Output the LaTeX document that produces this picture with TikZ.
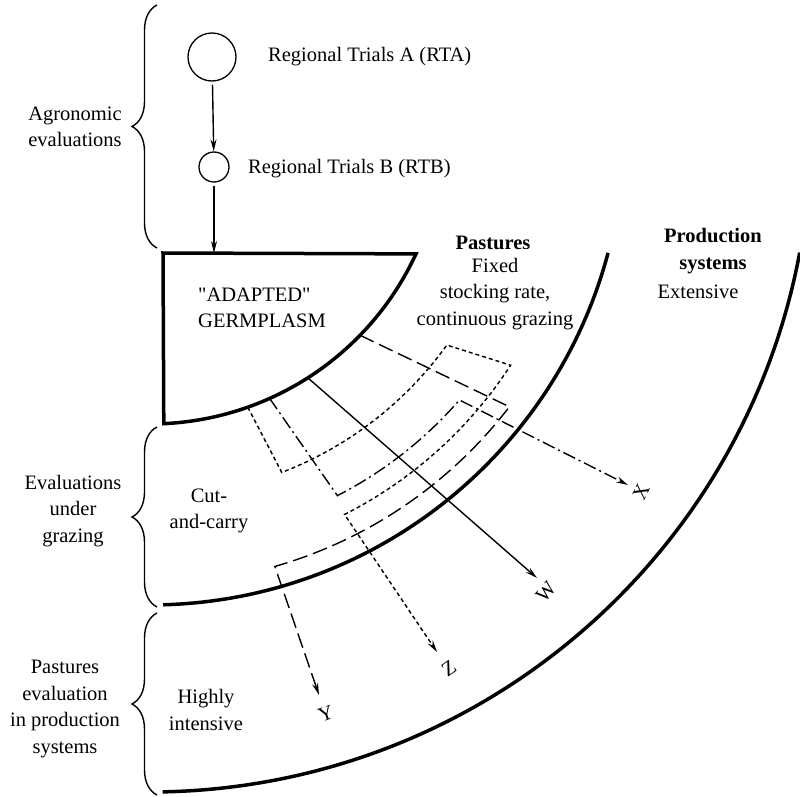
\documentclass[tikz,border=0pt]{standalone}
\usepackage{fontspec}
\setmainfont{Liberation Serif}
\usetikzlibrary{arrows.meta,decorations.pathreplacing,calc}
\begin{document}
\begin{tikzpicture}[x=1pt,y=-1pt,
  txt/.style={font=\fontsize{20.5}{26.5}\selectfont, inner sep=0pt, align=center},
  bold txt/.style={txt, font=\fontsize{20.5}{26.5}\selectfont\bfseries},
  heavy/.style={line width=3.5pt},
  conn/.style={line width=1.4pt},
  tipped/.style={-{Stealth[length=12pt,width=6pt]}},
  brc/.style={decorate,decoration={brace,amplitude=25pt},line width=1.4pt},
  trial/.style={circle,draw,line width=1.3pt,inner sep=0pt},
  dotline/.style={conn,dash pattern=on 4pt off 3pt},
  dashdotline/.style={conn,dash pattern=on 13pt off 4pt on 2pt off 4pt},
  longdash/.style={conn,dash pattern=on 15pt off 6pt},
]
\useasboundingbox (0,0) rectangle (800,797);
\coordinate (C) at (150,131);

% top: regional trials
\node[trial,minimum size=48pt] (A) at (212,57) {};
\node[trial,minimum size=30pt] (B) at (214,167) {};
\node[txt,anchor=west] (At) at (268,57) {Regional Trials A (RTA)};
\node[txt,anchor=west] (Bt) at (248,169) {Regional Trials B (RTB)};
\coordinate (G) at (214,253);
\draw[conn,tipped,shorten <=3pt] (A) -- (B);
\draw[conn,tipped,shorten <=3pt] (B) -- (G);

% germplasm block
\draw[heavy,line join=miter] (163,253) -- ($(C)+(24.8:293)$) arc[start angle=24.8,end angle=87.3,radius=293] -- cycle;
\node[txt,anchor=west,align=left] (GP) at (198,308) {\textquotedbl ADAPTED\textquotedbl\\GERMPLASM};

% big arcs
\draw[heavy] ($(C)+(14.9:474)$) arc[start angle=14.9,end angle=88.4,radius=474];
\draw[heavy] ($(C)+(10.6:661)$) arc[start angle=10.6,end angle=88.9,radius=661];

% zone texts
\node[bold txt] (Past) at (493,243) {Pastures};
\node[txt] (PastB) at (495,294) {Fixed\\stocking rate,\\continuous grazing};
\node[bold txt] (Prod) at (713,251) {Production\\systems};
\node[txt] (Ext) at (698,292) {Extensive};
\node[txt] (Cut) at (209,511) {Cut-\\and-carry};
\node[txt] (High) at (206,710) {Highly\\intensive};

% left labels and braces
\node[txt] (L1) at (75,127) {Agronomic\\evaluations};
\node[txt] (L2) at (73,511) {Evaluations\\under\\grazing};
\node[txt] (L3) at (65,709) {Pastures\\evaluation\\in production\\systems};
\draw[brc] (157,248) -- (157,5);
\draw[brc] (157,607) -- (157,427);
\draw[brc] (157,795) -- (157,613);

% outlet paths
\coordinate (w0) at ($(C)+(57.4:293)$);
\coordinate (wt) at (537,578);
\node[txt,rotate=49] (W) at (546,592) {W};
\draw[conn,tipped] (w0) -- (wt);

\coordinate (z0) at ($(C)+(70.5:293)$);
\coordinate (z1) at ($(C)+(68.9:366)$);
\coordinate (z2) at ($(C)+(33:430)$);
\coordinate (zt) at (437,652);
\node[txt,rotate=35] (Z) at (449,668) {Z};
\draw[dotline,tipped] (z0) -- (z1) arc[start angle=68.9,end angle=35.8,radius=366] -- (z2) arc[start angle=33,end angle=63.1,radius=430] -- (zt);

\coordinate (x0) at ($(C)+(65.9:293)$);
\coordinate (x1) at ($(C)+(62.8:410)$);
\coordinate (xt) at (628,485);
\node[txt,rotate=64] (X) at (641,492) {X};
\draw[dashdotline,tipped] (x0) -- (x1) arc[start angle=62.8,end angle=41,radius=410] -- (xt);

\coordinate (y0) at ($(C)+(44.2:293)$);
\coordinate (y1) at ($(C)+(37.5:453)$);
\coordinate (yt) at (319,695);
\node[txt,rotate=19] (Y) at (326,714) {Y};
\draw[longdash,tipped] (y0) -- (y1) arc[start angle=37.5,end angle=74,radius=453] -- (yt);
\end{tikzpicture}
\end{document}
